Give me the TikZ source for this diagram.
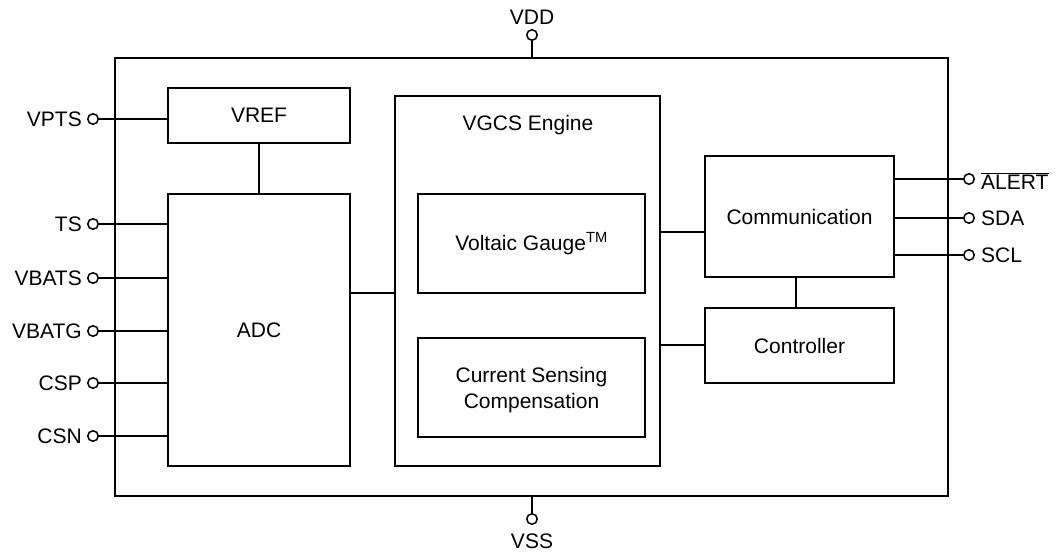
\documentclass[tikz,border=0pt]{standalone}
\usepackage{fontspec}
\setmainfont{Liberation Sans}
\begin{document}
\begin{tikzpicture}[x=1pt,y=-1pt,
  every node/.style={font=\fontsize{21}{26}\selectfont},
  blk/.style={draw,line width=1.6pt,inner sep=0pt,align=center},
  pinc/.style={draw,circle,line width=1.5pt,minimum size=10.5pt,inner sep=0pt},
  wire/.style={line width=1.6pt},
  lbl/.style={inner sep=0pt}]
\useasboundingbox (0,0) rectangle (1056,554);
% outer
\node[blk,minimum width=833pt,minimum height=438pt] (chip) at (531.5,277) {};
% blocks
\node[blk,minimum width=182pt,minimum height=55pt] (vref) at (259,115.5) {VREF};
\node[blk,minimum width=182pt,minimum height=272pt] (adc) at (259,330) {ADC};
\node[blk,minimum width=265pt,minimum height=370pt] (vgcs) at (527.5,281) {};
\node[lbl] (vgcst) at (528,125) {VGCS Engine};
\node[blk,minimum width=227pt,minimum height=99pt] (vg) at (531.5,243.5) {Voltaic Gauge\textsuperscript{TM}};
\node[blk,minimum width=227pt,minimum height=99pt,text depth=0pt] (csc) at (531.5,387.5) {Current Sensing\\Compensation};
\node[blk,minimum width=189pt,minimum height=121pt] (comm) at (799.5,216.5) {Communication};
\node[blk,minimum width=189pt,minimum height=75pt] (ctrl) at (799.5,345.5) {Controller};
% internal wires
\draw[wire] (vref.south) -- (adc.north);
\coordinate (y1) at (0,293);
\draw[wire] (adc.east |- y1) -- (vgcs.west |- y1);
\coordinate (y2) at (0,232);
\draw[wire] (vgcs.east |- y2) -- (comm.west |- y2);
\coordinate (y3) at (0,345);
\draw[wire] (vgcs.east |- y3) -- (ctrl.west |- y3);
\coordinate (x1) at (796,0);
\draw[wire] (comm.south -| x1) -- (ctrl.north -| x1);
% left pins
\foreach \n/\t/\y in {vpts/VPTS/119,ts/TS/224,vbats/VBATS/278,vbatg/VBATG/331,csp/CSP/383,csn/CSN/436}{
  \node[pinc] (\n) at (93,\y) {};
  \node[lbl,anchor=east] (\n t) at (82,\y) {\t};
}
\draw[wire] (vpts.east) -- (vref.west |- vpts);
\foreach \n in {ts,vbats,vbatg,csp,csn}{
  \draw[wire] (\n.east) -- (adc.west |- \n);
}
% right pins
\node[pinc] (alert) at (969,179) {};
\node[pinc] (sda) at (969,218) {};
\node[pinc] (scl) at (969,255) {};
\node[lbl,anchor=west] (alertt) at (981,181) {$\overline{\mbox{ALERT}}$};
\node[lbl,anchor=west] (sdat) at (981,218) {SDA};
\node[lbl,anchor=west] (sclt) at (981,255) {SCL};
\foreach \n in {alert,sda,scl}{
  \draw[wire] (comm.east |- \n) -- (\n.west);
}
% VDD / VSS
\node[pinc] (vdd) at (532,35) {};
\node[lbl] (vddt) at (532,17) {VDD};
\draw[wire] (vdd.south) -- (chip.north -| vdd);
\node[pinc] (vss) at (532,519) {};
\node[lbl] (vsst) at (532,541) {VSS};
\draw[wire] (chip.south -| vss) -- (vss.north);
\end{tikzpicture}
\end{document}
